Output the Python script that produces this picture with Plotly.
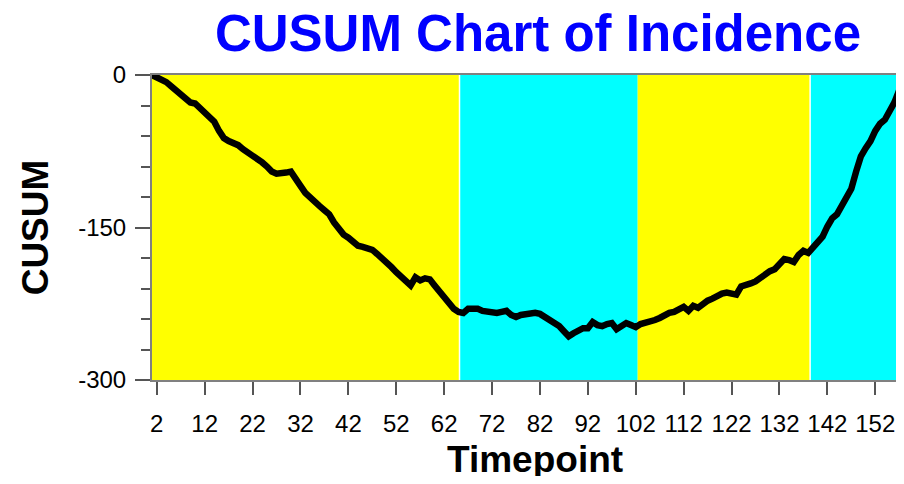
import plotly.graph_objects as go

# timepoints and cumulative sum values
timepoints = list(range(1, 159))
cusum = [
    0, -2, -4, -7, -11, -15, -20, -25, -27, -28,
    -32, -36, -40, -46, -55, -62, -65, -67, -69, -73,
    -76, -80, -83, -86, -90, -95, -97, -97, -96, -95,
    -101, -109, -116, -121, -125, -129, -133, -137, -145, -152,
    -157, -160, -165, -168, -169, -170, -172, -176, -180, -183,
    -189, -194, -199, -203, -207, -199, -202, -200, -201, -207,
    -213, -220, -226, -230, -233, -234, -230, -230, -230, -232,
    -233, -233, -234, -233, -232, -236, -238, -236, -235, -234,
    -234, -235, -238, -241, -244, -247, -252, -257, -254, -251,
    -249, -249, -243, -246, -247, -245, -244, -250, -247, -244,
    -246, -248, -245, -244, -243, -241, -239, -236, -234, -233,
    -230, -228, -232, -227, -229, -225, -222, -220, -217, -215,
    -214, -215, -216, -208, -207, -205, -203, -199, -195, -193,
    -191, -186, -181, -182, -184, -177, -173, -175, -170, -165,
    -159, -149, -141, -137, -128, -119, -112, -95, -80, -72,
    -65, -55, -48, -44, -36, -27, -15, -9,
]

# phases shaded behind the curve
phase_starts = [1, 65.2, 102.4, 138.4]
phase_ends = [65.2, 102.4, 138.4, 158]
phase_colors = ["#FFFF00", "#00FFFF", "#FFFF00", "#00FFFF"]

x_ticks = list(range(2, 153, 10))
y_ticks = [0, -150, -300]
y_labels = ["0", "-150", "-300"]

fig = go.Figure()

for x0, x1, col in zip(phase_starts, phase_ends, phase_colors):
    fig.add_vrect(x0=x0, x1=x1, fillcolor=col, opacity=1, line_width=0, layer="below")
    if col == "#00FFFF" and x0 > phase_starts[0]:
        fig.add_shape(type="line", x0=x0, x1=x0, y0=0, y1=1, yref="y domain",
                      line=dict(color="white", width=1.5), layer="below")

fig.add_trace(go.Scatter(x=timepoints, y=cusum, mode="lines",
                         line=dict(color="black", width=6.5), showlegend=False))

# x axis title, placed a little right of centre like the original
fig.add_annotation(text="<b>Timepoint</b>", xref="paper", yref="paper",
                   x=0.509, y=-0.188, xanchor="center", yanchor="top",
                   showarrow=False, font=dict(size=37))

# page body has an 8px margin; keep the figure inside the window (no scrollbar)
fig.update_layout(
    width=896, height=468,
    margin=dict(l=144, r=0, t=67, b=96),
    paper_bgcolor="white",
    plot_bgcolor="white",
    font=dict(family="Liberation Sans, Arial", color="black"),
    title=dict(text="<b>CUSUM Chart of Incidence</b>", x=0.5915, xanchor="center",
               y=0.947, yanchor="middle",
               font=dict(size=51, color="#0000FF", family="Liberation Sans, Arial")),
)

fig.update_xaxes(
    range=[1, 158], tickvals=x_ticks, ticks="outside", ticklen=13, tickwidth=1.5,
    tickcolor="#555555", showgrid=False, zeroline=False,
    showline=True, linecolor="#808080", linewidth=2, mirror=True,
    tickfont=dict(size=24), ticklabelstandoff=8,
)
fig.update_yaxes(
    range=[-300, 0], tickvals=y_ticks, ticktext=y_labels, ticks="outside",
    ticklen=15, tickwidth=1.5,
    tickcolor="#555555", showgrid=False, zeroline=False,
    showline=True, linecolor="#808080", linewidth=2,
    tickfont=dict(size=24), ticklabelstandoff=4,
    minor=dict(dtick=30, tick0=0, ticks="outside", ticklen=9, tickwidth=1.5,
               tickcolor="#555555", showgrid=False),
    title=dict(text="<b>CUSUM</b>", font=dict(size=37), standoff=18),
)

fig.write_html("out.html")
